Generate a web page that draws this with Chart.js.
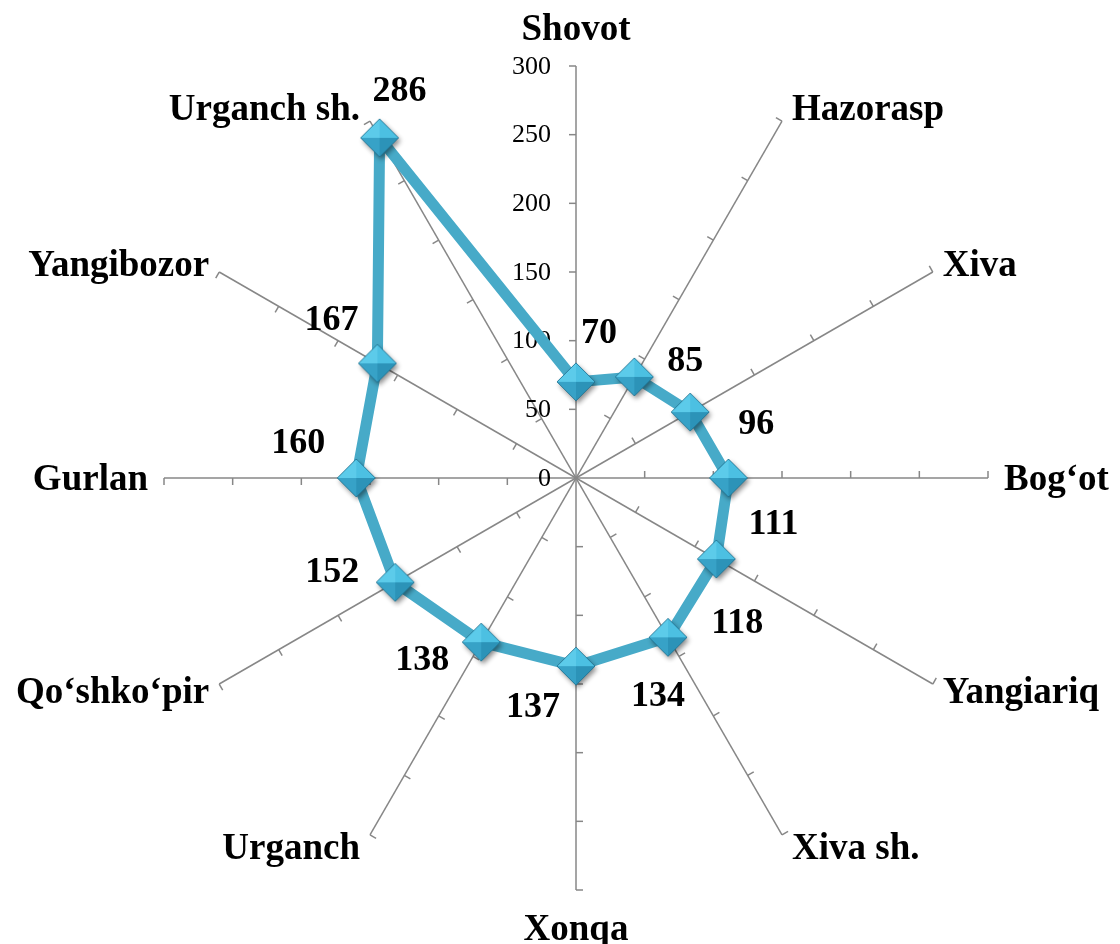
<!DOCTYPE html>
<html>
<head>
<meta charset="utf-8">
<script src="https://cdn.jsdelivr.net/npm/chart.js@4.4.1/dist/chart.umd.min.js"></script>
<style>
  html, body { margin: 0; padding: 0; background: #fff; }
  canvas { display: block; }
</style>
</head>
<body>
<canvas id="radar" width="1120" height="944"></canvas>
<script>
// districts, clockwise from the top
const districts = ["Shovot", "Hazorasp", "Xiva", "Bog‘ot", "Yangiariq", "Xiva sh.",
                   "Xonqa", "Urganch", "Qo‘shko‘pir", "Gurlan", "Yangibozor", "Urganch sh."];
const values = [70, 85, 96, 111, 118, 134, 137, 138, 152, 160, 167, 286];
const tickValues = [0, 50, 100, 150, 200, 250, 300];

// where each value label sits relative to its marker (px)
const labelOffsets = [[23, -50], [51, -17], [66, 11], [45, 45], [21, 63], [-10, 57],
                      [-43, 40], [-59, 17], [-63, -12], [-58, -36], [-46, -45], [20, -48]];

const lineColor = '#47aac8';
const axisColor = '#878787';
const serif = '"Liberation Serif", "Times New Roman", serif';

// bevelled diamond marker
function makeMarker(r) {
    const size = 2 * r + 14;
    const c = document.createElement('canvas');
    c.width = size;
    c.height = size;
    const g = c.getContext('2d');
    const m = size / 2;
    const top = [m, m - r], right = [m + r, m], bottom = [m, m + r], left = [m - r, m], mid = [m, m];
    function tri(a, b, color) {
        g.beginPath();
        g.moveTo(a[0], a[1]);
        g.lineTo(b[0], b[1]);
        g.lineTo(mid[0], mid[1]);
        g.closePath();
        g.fillStyle = color;
        g.fill();
    }
    g.save();
    g.shadowColor = 'rgba(0,0,0,0.45)';
    g.shadowBlur = 5;
    g.shadowOffsetX = 2;
    g.shadowOffsetY = 3;
    g.beginPath();
    g.moveTo(top[0], top[1]);
    g.lineTo(right[0], right[1]);
    g.lineTo(bottom[0], bottom[1]);
    g.lineTo(left[0], left[1]);
    g.closePath();
    g.fillStyle = '#3aa6cb';
    g.fill();
    g.restore();
    tri(left, top, '#5ccbea');
    tri(top, right, '#4cc0e2');
    tri(right, bottom, '#2c93b8');
    tri(bottom, left, '#37a2c7');
    g.beginPath();
    g.moveTo(top[0], top[1]);
    g.lineTo(right[0], right[1]);
    g.lineTo(bottom[0], bottom[1]);
    g.lineTo(left[0], left[1]);
    g.closePath();
    g.strokeStyle = 'rgba(30,110,140,0.8)';
    g.lineWidth = 1;
    g.stroke();
    return c;
}

const radarExtras = {
    id: 'radarExtras',
    beforeDatasetsDraw(chart) {
        const ctx = chart.ctx;
        const scale = chart.scales.r;
        ctx.save();
        // small tick marks on every spoke
        ctx.strokeStyle = axisColor;
        ctx.lineWidth = 1.5;
        for (let i = 0; i < districts.length; i++) {
            const end = scale.getPointPosition(i, scale.drawingArea);
            const len = Math.hypot(end.x - scale.xCenter, end.y - scale.yCenter);
            const ux = (end.x - scale.xCenter) / len, uy = (end.y - scale.yCenter) / len;
            const px = uy, py = -ux;
            tickValues.forEach(v => {
                if (v === 0) return;
                const p = scale.getPointPositionForValue(i, v);
                ctx.beginPath();
                ctx.moveTo(p.x, p.y);
                ctx.lineTo(p.x + px * 7, p.y + py * 7);
                ctx.stroke();
            });
        }
        // value labels along the vertical axis
        ctx.fillStyle = '#000';
        ctx.font = '26px ' + serif;
        ctx.textAlign = 'right';
        ctx.textBaseline = 'middle';
        scale.ticks.forEach(t => {
            const p = scale.getPointPositionForValue(0, t.value);
            ctx.fillText(String(t.value), p.x - 25, p.y + 1);
        });
        ctx.restore();
    },
    afterDatasetsDraw(chart) {
        const ctx = chart.ctx;
        const scale = chart.scales.r;
        const pts = chart.getDatasetMeta(0).data;
        ctx.save();
        ctx.fillStyle = '#000';
        ctx.textBaseline = 'middle';
        // data labels
        ctx.font = 'bold 36px ' + serif;
        ctx.textAlign = 'center';
        pts.forEach((pt, i) => {
            const off = labelOffsets[i];
            ctx.fillText(String(values[i]), pt.x + off[0], pt.y + off[1] + 2);
        });
        // category labels
        ctx.font = 'bold 37px ' + serif;
        districts.forEach((name, i) => {
            const a = scale.getIndexAngle(i);
            const s = Math.sin(a), c = Math.cos(a);
            const end = scale.getPointPosition(i, scale.drawingArea);
            if (Math.abs(s) < 0.01) {
                ctx.textAlign = 'center';
                ctx.fillText(name, end.x, end.y - 38 * c + 2);
            } else {
                const gap = Math.abs(s) > 0.99 ? 16 : 10;
                ctx.textAlign = s > 0 ? 'left' : 'right';
                ctx.fillText(name, end.x + (s > 0 ? gap : -gap), end.y - 15 * c + 2);
            }
        });
        ctx.restore();
    }
};

const radar = document.getElementById('radar');

new Chart(radar, {
    type: 'radar',
    data: {
        labels: districts,
        datasets: [{
            label: 'Tumanlar',
            data: values,
            borderColor: lineColor,
            backgroundColor: 'rgba(0,0,0,0)',
            borderWidth: 11,
            borderJoinStyle: 'round',
            fill: false,
            tension: 0,
            pointStyle: makeMarker(19),
            pointRadius: 19,
            pointHoverRadius: 19
        }]
    },
    options: {
        responsive: false,
        animation: false,
        layout: {
            padding: { left: 164, right: 132, top: 66, bottom: 54 }
        },
        plugins: {
            legend: { display: false },
            tooltip: { enabled: false }
        },
        scales: {
            r: {
                min: 0,
                max: 300,
                afterBuildTicks: s => { s.ticks = tickValues.map(v => ({ value: v })); },
                ticks: { display: false, stepSize: 50 },
                grid: { display: false },
                angleLines: { display: true, color: axisColor, lineWidth: 1.5 },
                pointLabels: { display: false }
            }
        }
    },
    plugins: [radarExtras]
});
</script>
</body>
</html>
